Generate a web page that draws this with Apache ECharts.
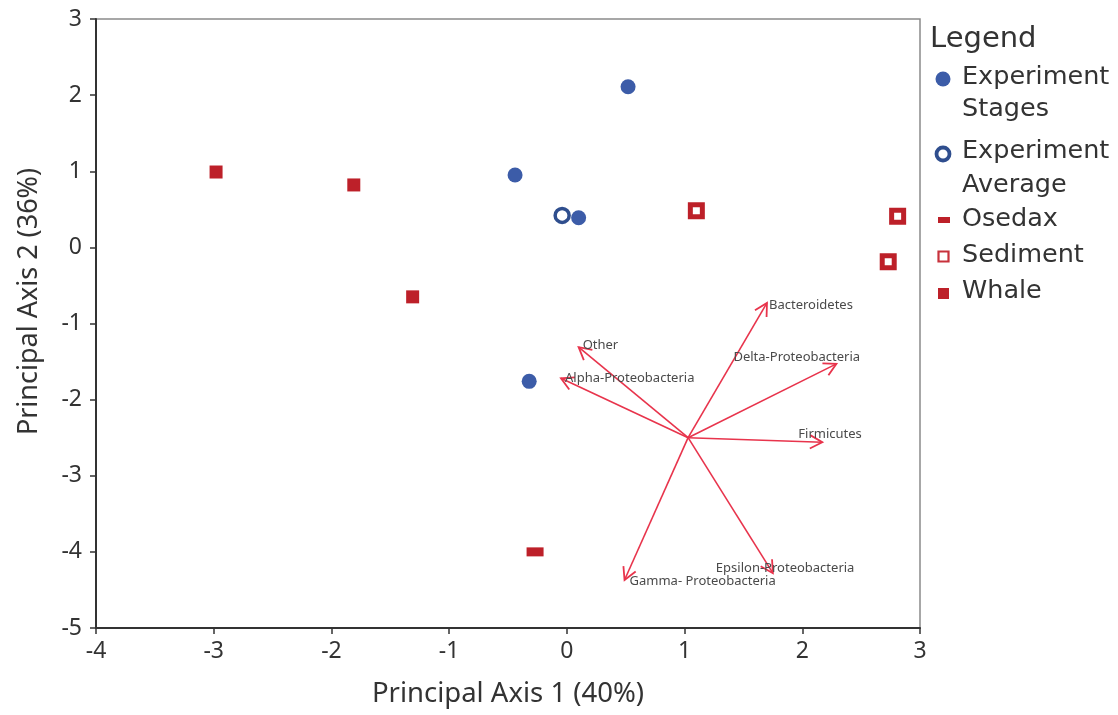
<!DOCTYPE html>
<html>
<head>
<meta charset="utf-8">
<title>Principal axes biplot</title>
<script src="https://cdn.jsdelivr.net/npm/echarts@6/dist/echarts.min.js"></script>
<style>
  html, body { margin: 0; padding: 0; background: #fff; }
  #chart { width: 1118px; height: 715px; }
</style>
</head>
<body>
<div id="chart"></div>
<script>
// Sample scores on the first two principal axes
const stagesX = [0.52, -0.44, 0.10, -0.32];
const stagesY = [2.11, 0.95, 0.39, -1.76];
const averageX = [-0.04];
const averageY = [0.42];
const osedaxX = [-0.27];
const osedaxY = [-4.00];
const sedimentX = [1.10, 2.81, 2.73];
const sedimentY = [0.48, 0.41, -0.19];
const whaleX = [-2.98, -1.81, -1.31];
const whaleY = [0.99, 0.82, -0.65];

// Taxon loading vectors, all drawn from a common origin
const vectorOrigin = [1.03, -2.50];
const vectorNames = ['Bacteroidetes', 'Delta-Proteobacteria', 'Firmicutes', 'Other',
  'Alpha-Proteobacteria', 'Gamma- Proteobacteria', 'Epsilon-Proteobacteria'];
const vectorX = [1.70, 2.29, 2.17, 0.10, -0.05, 0.49, 1.75];
const vectorY = [-0.73, -1.53, -2.56, -1.31, -1.72, -4.37, -4.28];

// Axis ranges and tick labels
const xTicks = [-4, -3, -2, -1, 0, 1, 2, 3];
const yTicks = [-5, -4, -3, -2, -1, 0, 1, 2, 3];

// Legend entries
const legendLabels = [['Experiment', 'Stages'], ['Experiment', 'Average'], ['Osedax'], ['Sediment'], ['Whale']];

// Pixel offsets of each vector label from its arrow tip (left edge, vertical centre)
const labelOffsets = [[2, 2], [-103, -7], [-24, -8], [4, -2], [4, 0], [5, 1], [-57, -5]];

const FONT = '"Noto Sans", "DejaVu Sans", sans-serif';
const LEGEND_FONT = '"DejaVu Sans", "Noto Sans", sans-serif';
const BLUE = '#3c5ca8';
const DARK_BLUE = '#2f4e8e';
const RED = '#bd2029';
const ARROW = '#e8344c';
const TEXT = '#333333';

const zip = (xs, ys) => xs.map((x, i) => [x, ys[i]]);

const vectorData = vectorNames.map((n, i) => ({
  name: n,
  value: [vectorOrigin[0], vectorOrigin[1], vectorX[i], vectorY[i]]
}));

function renderArrow(params, api) {
  const i = params.dataIndex;
  const p0 = api.coord([api.value(0), api.value(1)]);
  const p1 = api.coord([api.value(2), api.value(3)]);
  const ang = Math.atan2(p1[1] - p0[1], p1[0] - p0[0]);
  const headLen = 14, spread = 0.5;
  const h1 = [p1[0] - headLen * Math.cos(ang - spread), p1[1] - headLen * Math.sin(ang - spread)];
  const h2 = [p1[0] - headLen * Math.cos(ang + spread), p1[1] - headLen * Math.sin(ang + spread)];
  const off = labelOffsets[i];
  return {
    type: 'group',
    children: [
      { type: 'line', shape: { x1: p0[0], y1: p0[1], x2: p1[0], y2: p1[1] },
        style: { stroke: ARROW, lineWidth: 1.6 } },
      { type: 'polyline', shape: { points: [h1, p1, h2] },
        style: { stroke: ARROW, lineWidth: 1.8, fill: null } },
      { type: 'text', x: p1[0] + off[0], y: p1[1] + off[1],
        style: { text: vectorNames[i], fill: '#4a4a4a', font: '13px ' + FONT,
          align: 'left', verticalAlign: 'middle' } }
    ]
  };
}

// Legend drawn as graphic elements so the marker sits beside the first line of each entry
const legendRowsY = [[77, 109], [151, 185], [219], [255], [291]];
const legendIcons = [
  { type: 'circle', shape: { cx: 943, cy: 79, r: 7.5 }, style: { fill: BLUE } },
  { type: 'circle', shape: { cx: 943, cy: 154, r: 6.5 }, style: { fill: '#fff', stroke: DARK_BLUE, lineWidth: 3.8 } },
  { type: 'rect', shape: { x: 938, y: 217, width: 12, height: 6 }, style: { fill: RED } },
  { type: 'rect', shape: { x: 938.5, y: 251.5, width: 10, height: 10 }, style: { fill: '#fff', stroke: '#c8323c', lineWidth: 2.2 } },
  { type: 'rect', shape: { x: 938, y: 288, width: 11, height: 11 }, style: { fill: RED } }
];
const legendGraphics = [
  { type: 'text', x: 930, y: 39, style: { text: 'Legend', fill: TEXT, font: '29px ' + LEGEND_FONT, verticalAlign: 'middle' } }
].concat(legendIcons);
legendLabels.forEach((lines, i) => {
  lines.forEach((t, j) => {
    legendGraphics.push({ type: 'text', x: 962, y: legendRowsY[i][j],
      style: { text: t, fill: TEXT, font: '25.5px ' + LEGEND_FONT, verticalAlign: 'middle' } });
  });
});

const chart = echarts.init(document.getElementById('chart'), null, { renderer: 'canvas' });
chart.setOption({
  backgroundColor: '#ffffff',
  animation: false,
  textStyle: { fontFamily: FONT },
  grid: { left: 96, right: 198, top: 19, bottom: 87, show: true, borderColor: '#8a8a8a', borderWidth: 1.5 },
  xAxis: {
    type: 'value', min: xTicks[0], max: xTicks[xTicks.length - 1], interval: 1,
    name: 'Principal Axis 1 (40%)', nameLocation: 'middle', nameGap: 52,
    nameTextStyle: { fontSize: 27.5, color: TEXT, fontFamily: FONT },
    axisLine: { onZero: false, lineStyle: { color: '#333', width: 2 } },
    axisTick: { show: true, inside: false, length: 6, lineStyle: { color: '#333', width: 1.5 } },
    axisLabel: { fontSize: 23, color: TEXT, margin: 12, fontFamily: FONT },
    splitLine: { show: false }
  },
  yAxis: {
    type: 'value', min: yTicks[0], max: yTicks[yTicks.length - 1], interval: 1,
    name: 'Principal Axis 2 (36%)', nameLocation: 'middle', nameGap: 53,
    nameTextStyle: { fontSize: 27, color: TEXT, fontFamily: FONT, padding: [0, 0, 0, 44] },
    axisLine: { onZero: false, lineStyle: { color: '#333', width: 2 } },
    axisTick: { show: true, inside: false, length: 6, lineStyle: { color: '#333', width: 1.5 } },
    axisLabel: { fontSize: 23, color: TEXT, margin: 14, fontFamily: FONT, padding: [7, 0, 0, 0] },
    splitLine: { show: false }
  },
  series: [
    { name: 'Vectors', type: 'custom', renderItem: renderArrow, data: vectorData, z: 1,
      encode: { x: [0, 2], y: [1, 3] } },
    { name: 'Experiment Stages', type: 'scatter', data: zip(stagesX, stagesY),
      symbol: 'circle', symbolSize: 15, itemStyle: { color: BLUE, opacity: 1 }, z: 3 },
    { name: 'Experiment Average', type: 'scatter', data: zip(averageX, averageY),
      symbol: 'circle', symbolSize: 14, itemStyle: { color: '#fff', borderColor: DARK_BLUE, borderWidth: 3.5, opacity: 1 }, z: 3 },
    { name: 'Osedax', type: 'scatter', data: zip(osedaxX, osedaxY),
      symbol: 'rect', symbolSize: [17, 9], itemStyle: { color: RED, opacity: 1 }, z: 3 },
    { name: 'Sediment', type: 'scatter', data: zip(sedimentX, sedimentY),
      symbol: 'rect', symbolSize: 12, itemStyle: { color: '#fff', borderColor: RED, borderWidth: 5, opacity: 1 }, z: 3 },
    { name: 'Whale', type: 'scatter', data: zip(whaleX, whaleY),
      symbol: 'rect', symbolSize: 13, itemStyle: { color: RED, opacity: 1 }, z: 3 }
  ],
  graphic: legendGraphics
});
</script>
</body>
</html>
